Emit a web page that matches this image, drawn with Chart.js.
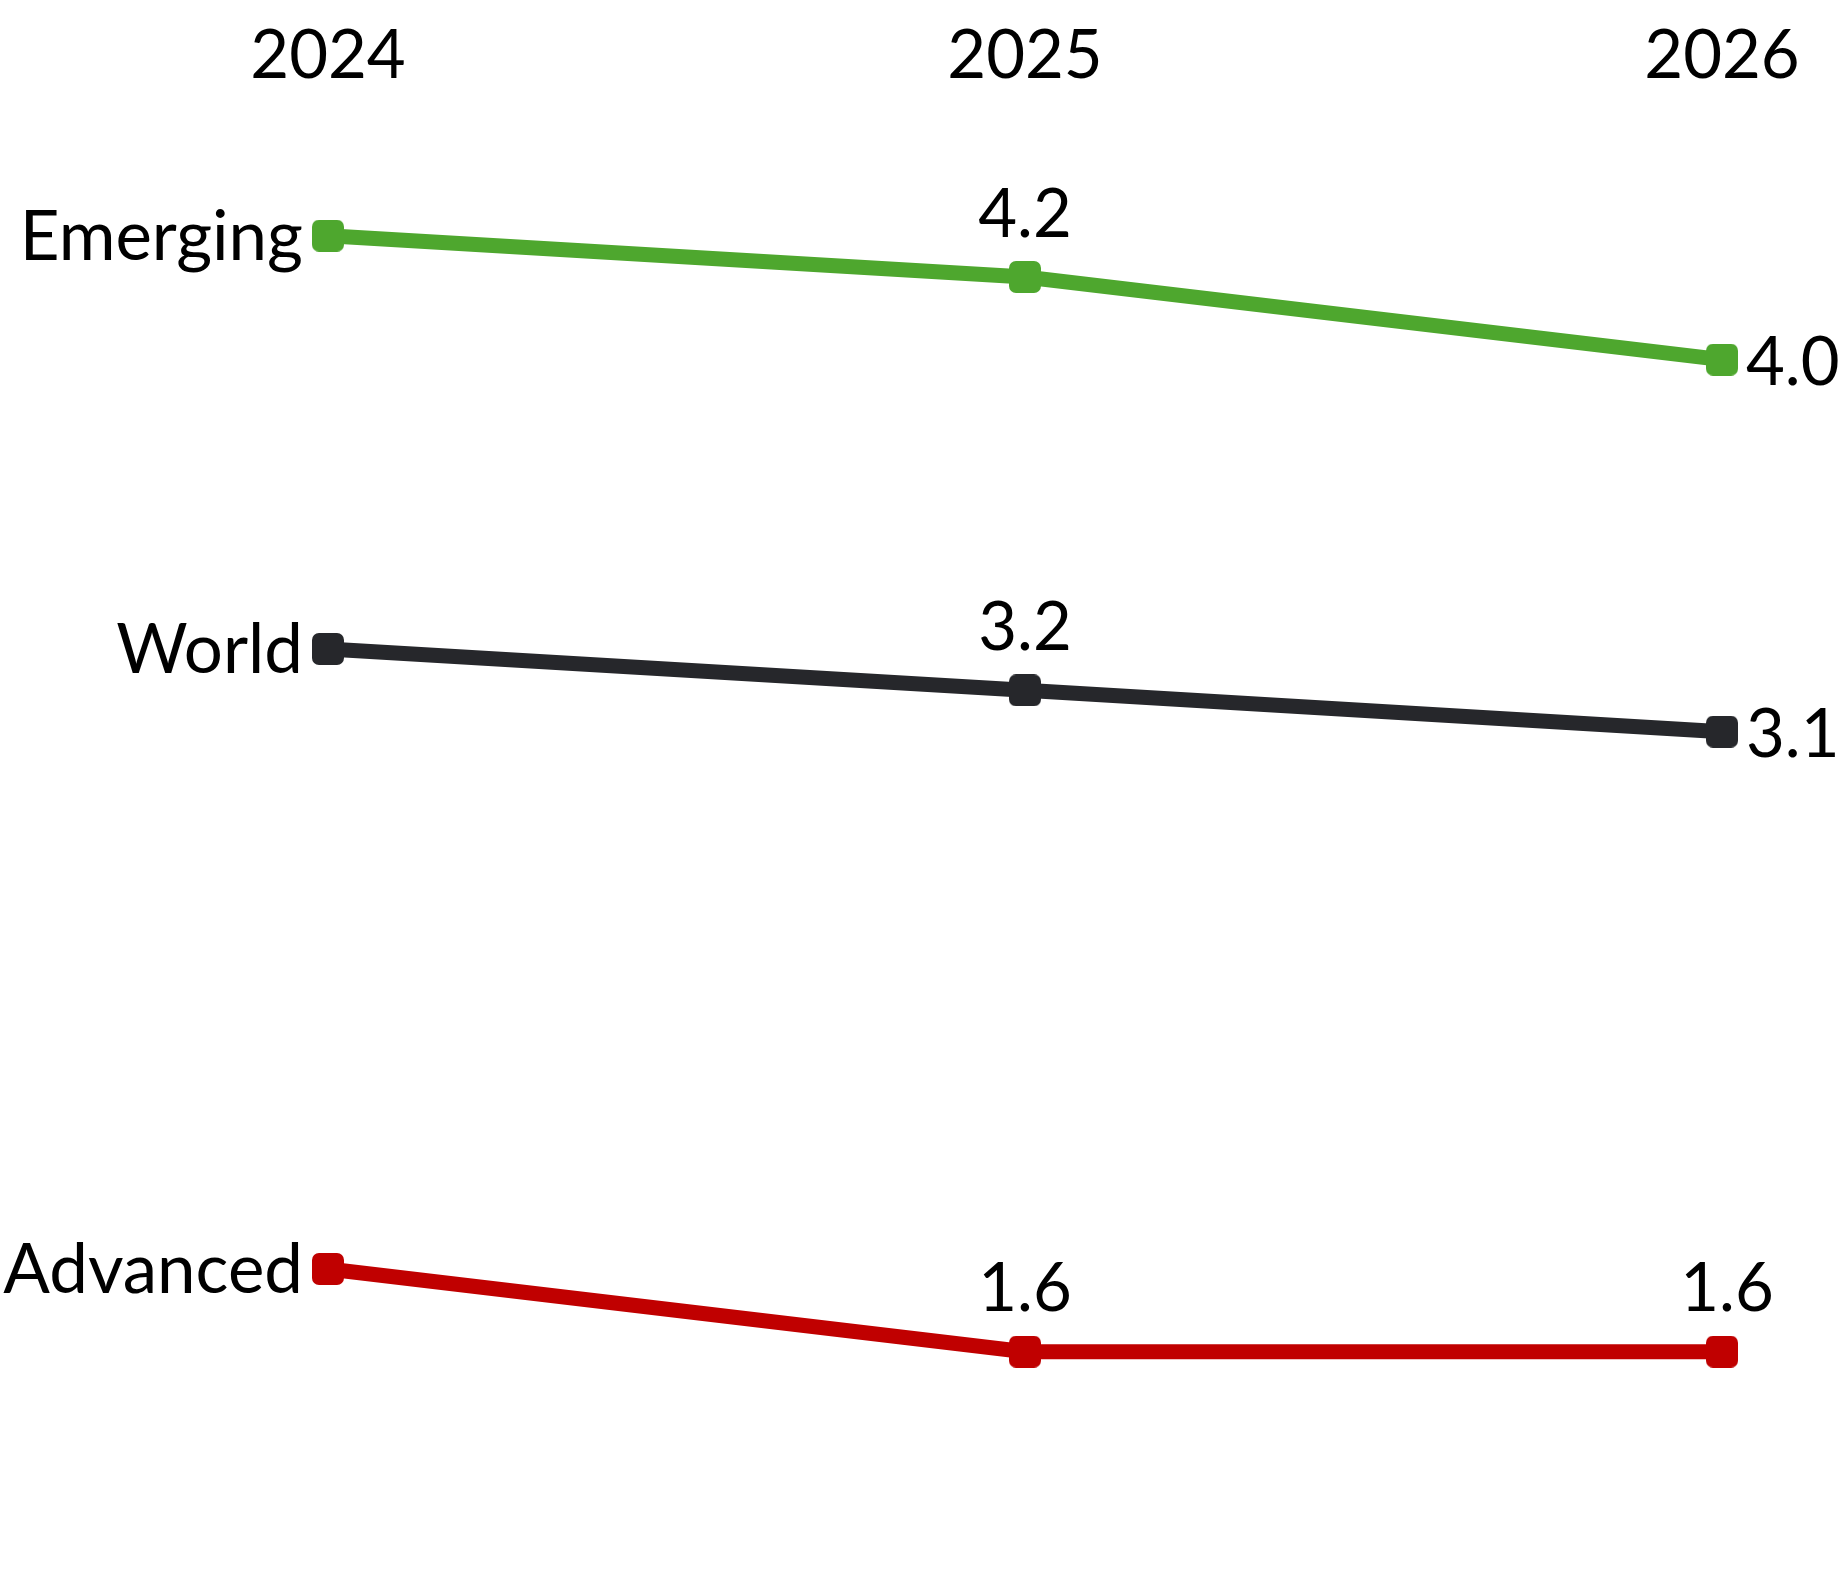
<!DOCTYPE html>
<html>
<head>
<meta charset="utf-8">
<script src="https://cdn.jsdelivr.net/npm/chart.js@4.4.1/dist/chart.umd.min.js"></script>
<style>
  html, body { margin: 0; padding: 0; background: #fff; overflow: hidden; }
  #wrap { width: 1846px; height: 1579px; position: relative; }
</style>
</head>
<body>
<div id="wrap"><canvas id="growthChart"></canvas></div>
<script>
const years = ['2024', '2025', '2026'];
const seriesNames = ['Emerging', 'World', 'Advanced'];
const emerging = [4.3, 4.2, 4.0];
const world = [3.3, 3.2, 3.1];
const advanced = [1.8, 1.6, 1.6];

const colors = ['#4ea72e', '#26272b', '#c00000'];
// where the label of each point goes
const labelSide = [
  ['name', 'above', 'right'],
  ['name', 'above', 'right'],
  ['name', 'above', 'above']
];
const fontFamily = 'Lato, "Open Sans", sans-serif';
const fontSize = 67;
const nameSize = 69;

function makeMarker(color) {
  const c = document.createElement('canvas');
  c.width = 32;
  c.height = 32;
  const g = c.getContext('2d');
  g.fillStyle = color;
  g.beginPath();
  g.roundRect(0, 0, 32, 32, 7);
  g.fill();
  return c;
}

const labelPlugin = {
  id: 'pointLabels',
  afterDatasetsDraw(chart) {
    const ctx = chart.ctx;
    ctx.save();
    ctx.fillStyle = '#000';
    ctx.textBaseline = 'middle';
    chart.data.datasets.forEach((ds, i) => {
      const meta = chart.getDatasetMeta(i);
      meta.data.forEach((pt, j) => {
        const side = labelSide[i][j];
        const txt = ds.data[j].toFixed(1);
        if (side === 'name') {
          ctx.font = nameSize + 'px ' + fontFamily;
          ctx.textAlign = 'right';
          ctx.fillText(ds.label, pt.x - 25, pt.y + 2);
          return;
        }
        ctx.font = fontSize + 'px ' + fontFamily;
        if (side === 'above') {
          ctx.textAlign = 'center';
          ctx.fillText(txt, pt.x + (j === 2 ? 5 : 0), pt.y - 62);
        } else {
          ctx.textAlign = 'left';
          ctx.fillText(txt, pt.x + 24, pt.y + 4);
        }
      });
    });
    ctx.restore();
  }
};

const allValues = [emerging, world, advanced];
const datasets = seriesNames.map((name, i) => ({
  label: name,
  data: allValues[i],
  borderColor: colors[i],
  backgroundColor: colors[i],
  borderWidth: 15,
  pointStyle: makeMarker(colors[i]),
  pointRadius: 16,
  pointHoverRadius: 16,
  tension: 0,
  clip: false
}));

const ctx = document.getElementById('growthChart').getContext('2d');
const chart = new Chart(ctx, {
  type: 'line',
  data: { labels: years, datasets },
  options: {
    responsive: true,
    maintainAspectRatio: false,
    animation: false,
    events: [],
    layout: { padding: { left: 328, right: 124, top: 0, bottom: 62 } },
    plugins: { legend: { display: false }, tooltip: { enabled: false } },
    scales: {
      x: {
        position: 'top',
        offset: false,
        grid: { display: false, drawTicks: false },
        border: { display: false },
        ticks: {
          color: '#000',
          padding: 56,
          maxRotation: 0,
          font: { family: fontFamily, size: fontSize }
        },
        afterFit: (s) => {
          s.height = 153;
          s.paddingLeft = 0;
          s.paddingRight = 0;
        }
      },
      y: {
        display: false,
        min: 1.2,
        max: 4.5
      }
    }
  },
  plugins: [labelPlugin]
});
</script>
</body>
</html>
